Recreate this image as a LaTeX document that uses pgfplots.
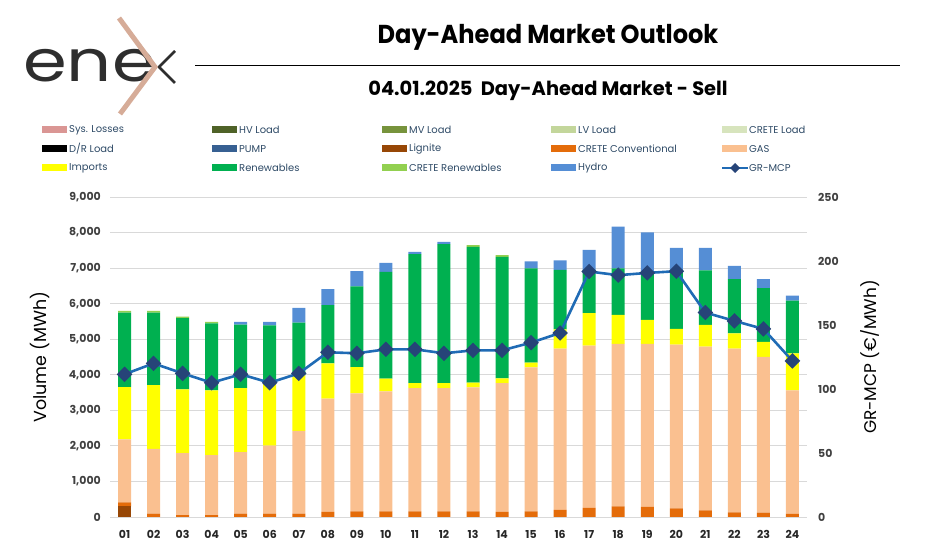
\documentclass[border=0pt]{standalone}
\usepackage{fontspec}
\setmainfont{Poppins}
\newfontfamily\titlefont[FakeStretch=0.93]{Poppins}
\newfontfamily\logofont[FakeStretch=1.22]{Poppins}
\usepackage{pgfplots}
\usepackage{pgfplotstable}
\pgfplotsset{compat=1.18}

\definecolor{syslos}{HTML}{DA9694}
\definecolor{hvload}{HTML}{4F6228}
\definecolor{mvload}{HTML}{77933C}
\definecolor{lvload}{HTML}{C3D69B}
\definecolor{creteload}{HTML}{D7E4BD}
\definecolor{pump}{HTML}{376092}
\definecolor{lignite}{HTML}{974706}
\definecolor{creteconv}{HTML}{E46C0A}
\definecolor{gas}{HTML}{FAC090}
\definecolor{imports}{HTML}{FFFF00}
\definecolor{renew}{HTML}{00B050}
\definecolor{creteren}{HTML}{92D050}
\definecolor{hydro}{HTML}{558ED5}
\definecolor{mcpline}{HTML}{1F6BB5}
\definecolor{mcpmark}{HTML}{264478}
\definecolor{legtext}{HTML}{2E4A66}
\definecolor{tickgray}{HTML}{404040}
\definecolor{logotan}{HTML}{D6AC98}

% hour, stacked volumes (MWh), GR-MCP (EUR/MWh)
\pgfplotstableread{
h  lig  conv gas  imp  ren  cren hyd  mcp
1  300  113  1767 1475 2095 50   0    111.5
2  0    94   1823 1794 2039 50   0    120.0
3  0    56   1739 1794 2001 47   0    112.2
4  0    56   1682 1823 1888 38   0    104.9
5  0    94   1729 1803 1785 0    76   111.5
6  0    94   1916 1790 1592 0    95   104.9
7  0    94   2330 1559 1485 0    413  112.2
8  0    141  3185 996  1634 0    451  128.7
9  0    160  3316 742  2265 0    432  127.9
10 0    160  3372 358  3006 0    254  131.0
11 0    160  3466 141  3627 0    66   131.0
12 0    160  3466 141  3909 0    65   127.9
13 0    160  3485 132  3823 48   0    130.2
14 0    141  3626 132  3420 47   0    130.2
15 0    160  4049 132  2649 0    197  136.2
16 0    197  4538 545  1672 0    263  143.8
17 0    254  4566 911  1219 0    566  191.8
18 0    300  4567 817  1306 0    1174 188.9
19 0    282  4585 676  1362 0    1099 190.7
20 0    244  4604 441  1663 0    620  192.0
21 0    188  4603 611  1531 0    639  159.7
22 0    132  4603 432  1522 0    376  153.2
23 0    122  4378 423  1513 0    253  146.9
24 0    85   3476 1043 1484 0    141  121.9
}\data

\newcommand\legbox[4]{%
  \fill[#3] (#1bp,#2bp-3.5bp) rectangle ++(25bp,7bp);
  \node[anchor=west, inner sep=0pt, text=legtext,
        font=\fontsize{10}{12}\selectfont] at (#1bp+27bp,#2bp) {#4};}

\begin{document}
\begin{tikzpicture}
\path[use as bounding box] (0,0) rectangle (949bp,546bp);

% logo
\node[anchor=base west, inner sep=0pt, text=black!82] at (23bp,464bp)
  {\logofont\fontsize{58}{60}\selectfont ene};
\draw[black!82, line width=2.6bp] (175bp,495bp) -- (159bp,479bp) -- (175bp,463bp);
\draw[logotan, line width=5bp] (119bp,528bp) -- (155bp,479bp) -- (120bp,432bp);

% header
\node at (548bp,509bp) {\titlefont\bfseries\fontsize{26}{29}\selectfont Day-Ahead Market Outlook};
\draw[line width=0.9bp] (195bp,481bp) -- (900bp,481bp);
\node at (548bp,455bp) {\bfseries\fontsize{19.5}{22}\selectfont 04.01.2025\ \ Day-Ahead Market - Sell};

% legend
\legbox{42}{416}{syslos}{Sys. Losses}
\legbox{212}{416}{hvload}{HV Load}
\legbox{382}{416}{mvload}{MV Load}
\legbox{551}{416}{lvload}{LV Load}
\legbox{722}{416}{creteload}{CRETE Load}
\legbox{42}{397}{black}{D/R Load}
\legbox{212}{397}{pump}{PUMP}
\legbox{382}{397}{lignite}{Lignite}
\legbox{551}{397}{creteconv}{CRETE Conventional}
\legbox{722}{397}{gas}{GAS}
\legbox{42}{378}{imports}{Imports}
\legbox{212}{378}{renew}{Renewables}
\legbox{382}{378}{creteren}{CRETE Renewables}
\legbox{551}{378}{hydro}{Hydro}
\draw[mcpline, line width=2.4bp] (722bp,378bp) -- (748bp,378bp);
\fill[mcpmark] (735bp,383bp) -- (740bp,378bp) -- (735bp,373bp) -- (730bp,378bp) -- cycle;
\node[anchor=west, inner sep=0pt, text=legtext, font=\fontsize{10}{12}\selectfont]
  at (749bp,378bp) {GR-MCP};

% axis titles
\node[rotate=90] at (40bp,189bp) {\fontsize{17.5}{20}\selectfont Volume (MWh)};
\node[rotate=90] at (870bp,189bp) {\fontsize{17}{20}\selectfont GR-MCP (€/MWh)};

\begin{axis}[
  at={(110bp,29bp)}, anchor=south west,
  scale only axis, width=697bp, height=320bp,
  xmin=0.5, xmax=24.5, ymin=0, ymax=9000,
  ybar stacked, bar width=13bp,
  axis lines*=left, axis line style={draw=none},
  major tick length=0pt,
  ytick={0,1000,...,9000},
  ymajorgrids, grid style={draw=black!15, line width=0.9bp},
  xtick={1,...,24},
  xticklabels={01,02,03,04,05,06,07,08,09,10,11,12,13,14,15,16,17,18,19,20,21,22,23,24},
  xticklabel style={font=\bfseries\fontsize{11}{13}\selectfont, text=black!85,
                    inner sep=0pt, yshift=-13bp},
  yticklabel style={font=\bfseries\fontsize{11}{13}\selectfont, text=tickgray,
                    inner sep=0pt, xshift=-9bp},
  /pgf/number format/1000 sep={,},
  /pgf/number format/assume math mode=true,
  every axis plot/.append style={draw=none},
]
  \addplot[fill=lignite]   table[x=h,y=lig]  {\data};
  \addplot[fill=creteconv] table[x=h,y=conv] {\data};
  \addplot[fill=gas]       table[x=h,y=gas]  {\data};
  \addplot[fill=imports]   table[x=h,y=imp]  {\data};
  \addplot[fill=renew]     table[x=h,y=ren]  {\data};
  \addplot[fill=creteren]  table[x=h,y=cren] {\data};
  \addplot[fill=hydro]     table[x=h,y=hyd]  {\data};
\end{axis}

\begin{axis}[
  at={(110bp,29bp)}, anchor=south west,
  scale only axis, width=697bp, height=320bp,
  xmin=0.5, xmax=24.5, ymin=0, ymax=250,
  axis y line*=right, axis x line=none,
  axis line style={draw=none},
  major tick length=0pt,
  ytick={0,50,...,250},
  yticklabel style={font=\bfseries\fontsize{11}{13}\selectfont, text=tickgray,
                    inner sep=0pt, xshift=11bp},
  /pgf/number format/assume math mode=true,
]
  \addplot[mcpline, line width=2.6bp, mark=square*, mark size=4.2bp,
           mark options={fill=mcpmark, draw=mcpmark, rotate=45}]
    table[x=h,y=mcp] {\data};
\end{axis}
\end{tikzpicture}
\end{document}
